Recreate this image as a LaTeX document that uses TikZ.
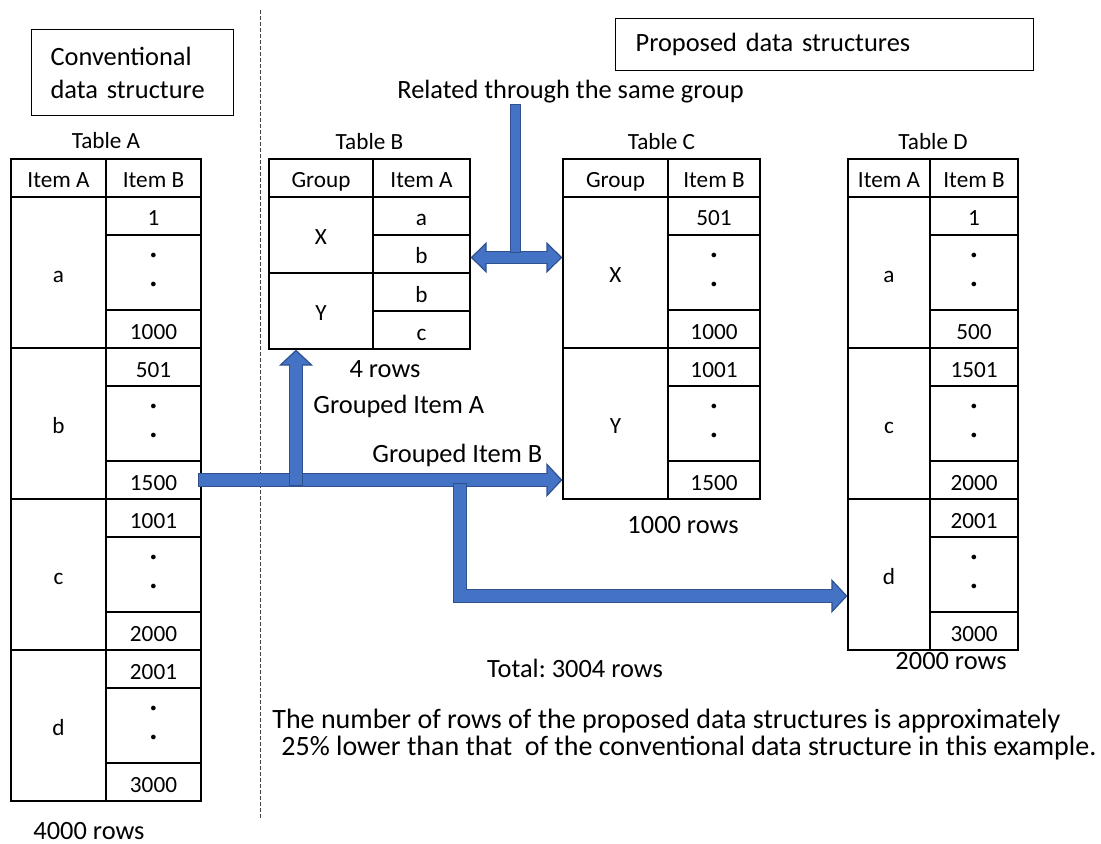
\documentclass[tikz,border=0pt]{standalone}
\usepackage{fontspec}
\setmainfont{Carlito}
\frenchspacing
\usetikzlibrary{arrows.meta,positioning}
\definecolor{arrowfill}{HTML}{4472C4}
\definecolor{arrowline}{HTML}{2F528F}
\newcommand\tabfont{\fontsize{11.6}{14}\selectfont}
\newcommand\notefont{\fontsize{13.2}{16.5}\selectfont}
\tikzset{blk/.tip={Triangle[length=8pt,width=17pt,line width=0.6pt,fill=arrowfill]},
         dblk/.tip={Triangle[length=8pt,width=15.5pt,line width=0.6pt,fill=arrowfill]}}
\tikzstyle{cell} = [draw, line width=0.6pt, inner sep=0pt, font=\tabfont, text height=10pt, text depth=0pt]
\tikzstyle{dotcell} = [draw, line width=0.6pt, inner sep=0pt, align=center, font=\fontsize{12.5}{14.5}\selectfont\bfseries]
\tikzstyle{ttl} = [font=\tabfont, anchor=base, inner sep=0pt]
\tikzstyle{note} = [font=\notefont, inner sep=0pt]
\tikzstyle{box} = [draw, line width=0.6pt, font=\notefont, anchor=north west, align=left]
\tikzstyle{divider} = [draw=black!75, line width=0.5pt, dash pattern=on 2pt off 1pt]
\tikzstyle{bigarrow} = [draw=arrowline, line width=7pt, line join=miter, -blk]
\tikzstyle{bigarrowin} = [draw=arrowfill, line width=5.8pt, line join=miter, shorten >=7.3pt, shorten <=0.6pt]
% one table cell: name, x1, y1, x2, y2, text
\newcommand\tcell[6]{\node[cell, minimum width={((#4)-(#2))*0.5pt}, minimum height={((#5)-(#3))*0.5pt}] (#1) at ({((#2)+(#4))/2},{((#3)+(#5))/2}) {#6};}
\newcommand\dcell[5]{\node[dotcell, minimum width={((#4)-(#2))*0.5pt}, minimum height={((#5)-(#3))*0.5pt}] (#1) at ({((#2)+(#4))/2},{((#3)+(#5))/2}) {·\\·};}

\begin{document}
\begin{tikzpicture}[x=0.5pt,y=-0.5pt]
\useasboundingbox (0,0) rectangle (1101,844);

\draw[divider] (260,10) -- (260,820);

\node[box, minimum width=101pt, minimum height=43pt, text width=82pt, inner xsep=9.5pt] (conv) at (31,29) {Conventional\\data structure};
\node[box, minimum width=209pt, minimum height=26pt, text width=189pt, inner xsep=10pt] (prop) at (615,18) {Proposed data structures};

% Table A
\node[ttl] (A-title) at (106,149) {Table A};
\tcell{A-h1}{11}{159}{106}{197}{Item A}
\tcell{A-h2}{106}{159}{201}{197}{Item B}
\foreach \g/\vfirst/\vlast [count=\i] in {a/1/1000,b/501/1500,c/1001/2000,d/2001/3000}{
  \pgfmathsetmacro\ty{197+(\i-1)*151}
  \tcell{A-\g}{11}{\ty}{106}{\ty+151}{\g}
  \tcell{A-\g-1}{106}{\ty}{201}{\ty+38}{\vfirst}
  \dcell{A-\g-2}{106}{\ty+38}{201}{\ty+113}
  \tcell{A-\g-3}{106}{\ty+113}{201}{\ty+151}{\vlast}
}
\node[note, anchor=base] (A-rows) at (89,839) {4000 rows};

% Table B
\node[ttl] (B-title) at (369.5,150) {Table B};
\tcell{B-h1}{269}{159}{373}{197}{Group}
\tcell{B-h2}{373}{159}{470}{197}{Item A}
\tcell{B-X}{269}{197}{373}{273}{X}
\tcell{B-X-1}{373}{197}{470}{235}{a}
\tcell{B-X-2}{373}{235}{470}{273}{b}
\tcell{B-Y}{269}{273}{373}{349}{Y}
\tcell{B-Y-1}{373}{273}{470}{311}{b}
\tcell{B-Y-2}{373}{311}{470}{349}{c}
\node[note, anchor=base] (B-rows) at (385,377) {4 rows};

% Table C
\node[ttl] (C-title) at (661.5,150) {Table C};
\tcell{C-h1}{563}{159}{668}{197}{Group}
\tcell{C-h2}{668}{159}{760}{197}{Item B}
\foreach \g/\vfirst/\vlast [count=\i] in {X/501/1000,Y/1001/1500}{
  \pgfmathsetmacro\ty{197+(\i-1)*151}
  \tcell{C-\g}{563}{\ty}{668}{\ty+151}{\g}
  \tcell{C-\g-1}{668}{\ty}{760}{\ty+38}{\vfirst}
  \dcell{C-\g-2}{668}{\ty+38}{760}{\ty+113}
  \tcell{C-\g-3}{668}{\ty+113}{760}{\ty+151}{\vlast}
}
\node[note, anchor=base] (C-rows) at (683,533) {1000 rows};

% Table D
\node[ttl] (D-title) at (933,150) {Table D};
\tcell{D-h1}{848}{159}{930}{197}{Item A}
\tcell{D-h2}{930}{159}{1018}{197}{Item B}
\foreach \g/\vfirst/\vlast [count=\i] in {a/1/500,c/1501/2000,d/2001/3000}{
  \pgfmathsetmacro\ty{197+(\i-1)*151}
  \tcell{D-\g}{848}{\ty}{930}{\ty+151}{\g}
  \tcell{D-\g-1}{930}{\ty}{1018}{\ty+38}{\vfirst}
  \dcell{D-\g-2}{930}{\ty+38}{1018}{\ty+113}
  \tcell{D-\g-3}{930}{\ty+113}{1018}{\ty+151}{\vlast}
}
\node[note, anchor=base] (D-rows) at (951,669) {2000 rows};

% labels
\node[note, anchor=base west] (rel) at (397,99) {Related through the same group};
\node[note, anchor=base west] (grpA) at (313,413) {Grouped Item A};
\node[note, anchor=base west] (grpB) at (372,462) {Grouped Item B};
\node[note, anchor=base] (total) at (575,677) {Total: 3004 rows};
\node[note, font=\fontsize{14}{17}\selectfont, anchor=base west] (concl1) at (272,728) {The number of rows of the proposed data structures is approximately};
\node[note, font=\fontsize{14}{17}\selectfont, anchor=base west] (concl2) at (281,755) {25\% lower than that\ \ of the conventional data structure in this example.};

% block arrows
\coordinate (upfoot) at (296,486);
\coordinate (branch) at (460,483);
\coordinate (relfoot) at (515.5,253);

\draw[bigarrow] ([xshift=-2pt]A-b-3.east) -- (A-b-3.east -| C-Y.west);
\draw[bigarrowin] ([xshift=-2pt]A-b-3.east) -- (A-b-3.east -| C-Y.west);

\draw[bigarrow] (upfoot) -- (upfoot |- B-Y.south);
\draw[bigarrowin] (upfoot) -- (upfoot |- B-Y.south);

\draw[bigarrow] (branch) |- ([yshift=-10.75pt]D-d.west);
\draw[bigarrowin] (branch) |- ([yshift=-10.75pt]D-d.west);

\draw[bigarrow, line width=6.5pt, dblk-dblk] ([yshift=-1.75pt]B-X-2.east) -- ([yshift=-1.75pt]B-X-2.east -| C-X.west);
\draw[bigarrowin, line width=5.3pt, shorten <=7.3pt] ([yshift=-1.75pt]B-X-2.east) -- ([yshift=-1.75pt]B-X-2.east -| C-X.west);

\draw[draw=arrowline, line width=5.5pt] (rel.south -| relfoot) -- (relfoot);
\draw[draw=arrowfill, line width=4.9pt, shorten <=0.3pt, shorten >=0.3pt] (rel.south -| relfoot) -- (relfoot);

\end{tikzpicture}
\end{document}
